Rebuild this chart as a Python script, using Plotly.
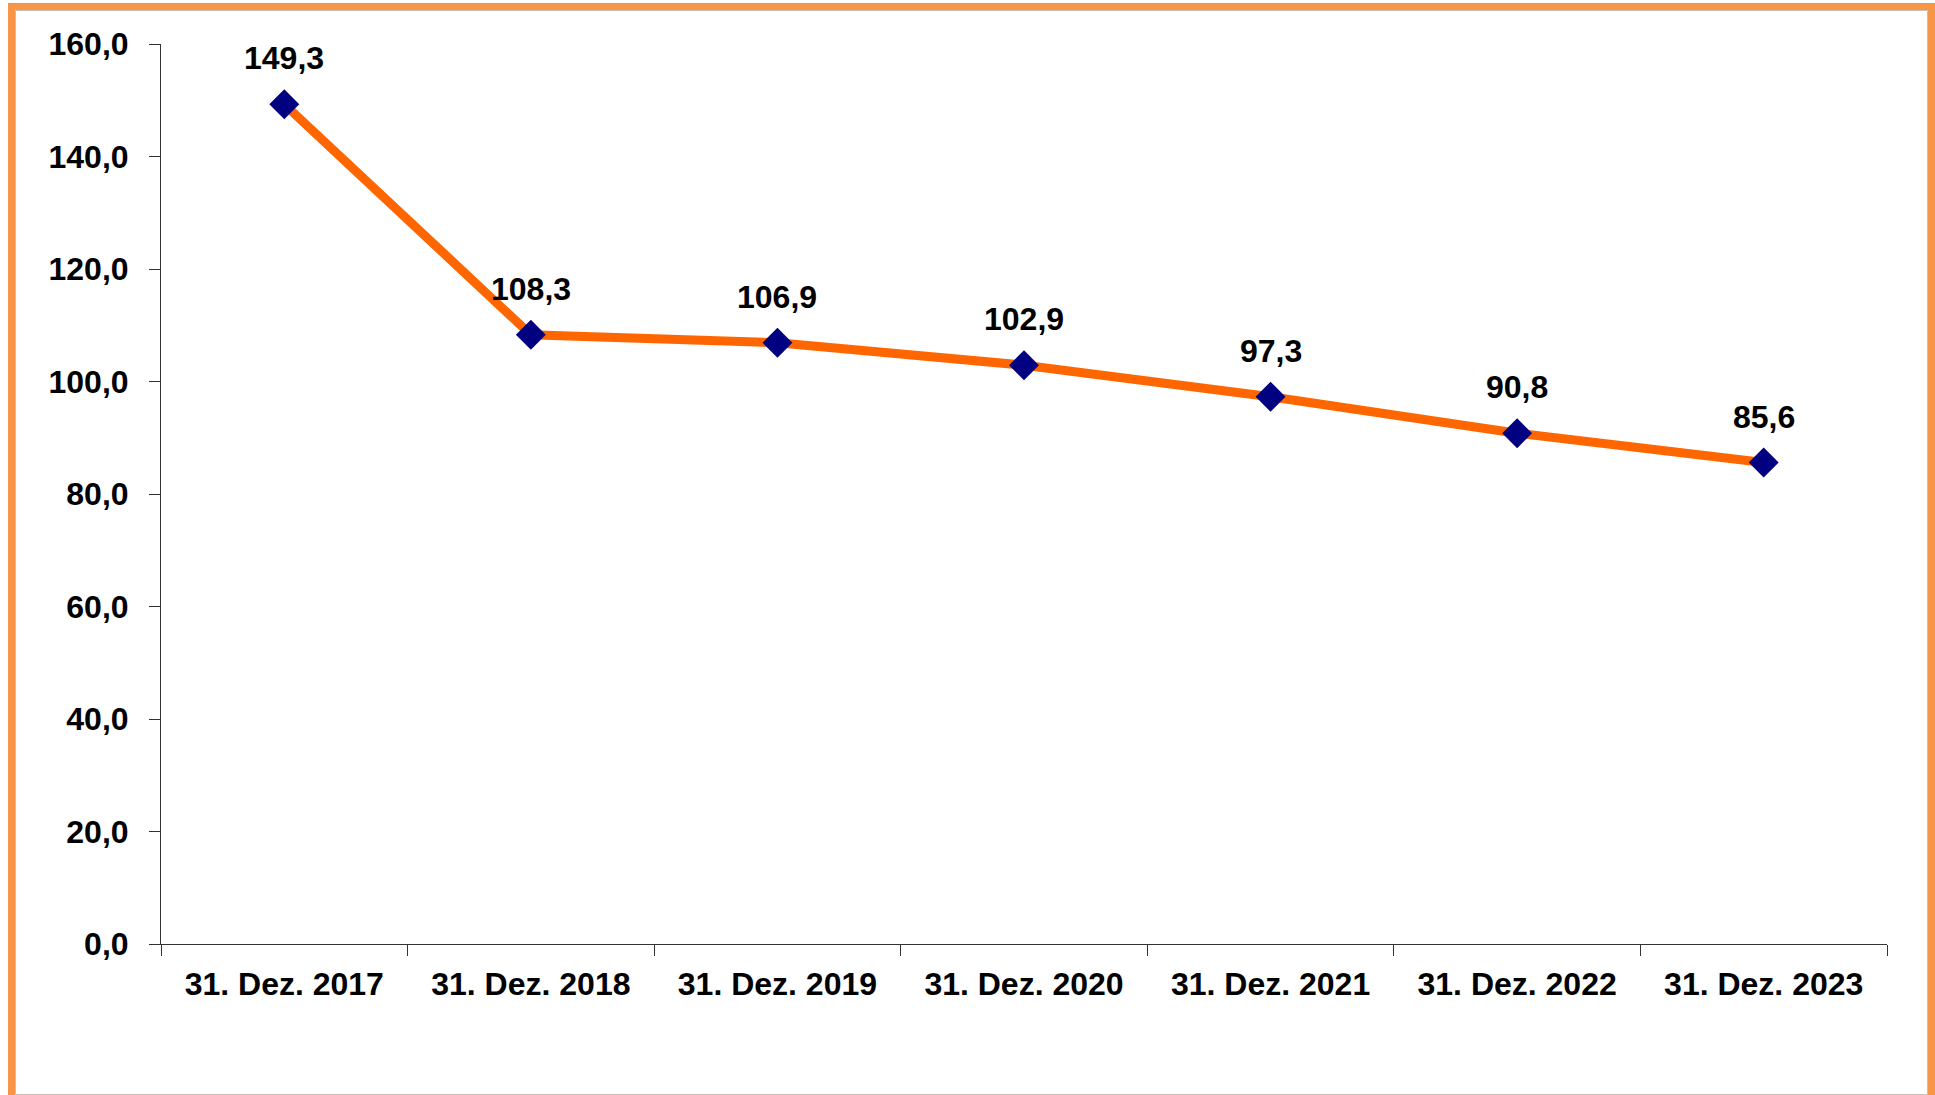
import plotly.graph_objects as go

categories = ["31. Dez. 2017", "31. Dez. 2018", "31. Dez. 2019", "31. Dez. 2020",
              "31. Dez. 2021", "31. Dez. 2022", "31. Dez. 2023"]
values = [149.3, 108.3, 106.9, 102.9, 97.3, 90.8, 85.6]
value_labels = ["149,3", "108,3", "106,9", "102,9", "97,3", "90,8", "85,6"]
y_ticks = [0, 20, 40, 60, 80, 100, 120, 140, 160]

W, H = 1935, 1095
L, R, T, B = 161, 48, 44, 151
pw, ph = W - L - R, H - T - B

def px(x):
    return (x - L) / pw

def py(y):
    return (H - B - y) / ph

FONT = "Liberation Sans, Arial, sans-serif"

fig = go.Figure()
fig.add_trace(go.Scatter(
    x=categories, y=values, mode="lines+markers",
    line=dict(color="#FF6600", width=9),
    marker=dict(symbol="diamond", size=23, color="#000080"),
    hoverinfo="skip", showlegend=False,
))

for c, v, t in zip(categories, values, value_labels):
    fig.add_annotation(x=c, y=v, text=f"<b>{t}</b>", showarrow=False,
                       yshift=46, yanchor="middle", xanchor="center",
                       font=dict(family=FONT, size=32, color="#000000"))

# orange frame
fig.add_shape(type="rect", xref="paper", yref="paper",
              x0=px(11.5), x1=px(1931.5), y0=py(6.5), y1=py(1110),
              line=dict(color="#F79646", width=7), fillcolor="rgba(0,0,0,0)", layer="above")
fig.add_shape(type="rect", xref="paper", yref="paper",
              x0=px(15.5), x1=px(1927.5), y0=py(10.5), y1=py(1094.5),
              line=dict(color="#C8C0B8", width=1), fillcolor="rgba(0,0,0,0)", layer="above")

fig.update_layout(
    width=W, height=H,
    margin=dict(l=L, r=R, t=T, b=B, pad=0),
    paper_bgcolor="white", plot_bgcolor="white",
    separators=",.",
    font=dict(family=FONT, size=32, color="#000000"),
    xaxis=dict(
        type="category", range=[-0.5, 6.5], tickson="boundaries",
        ticks="outside", ticklen=11, tickwidth=1, tickcolor="#333333",
        showline=True, linecolor="#333333", linewidth=1,
        showgrid=False, zeroline=False, ticklabelstandoff=12,
        tickfont=dict(family=FONT, size=32, color="#000000", weight="bold"),
    ),
    yaxis=dict(
        range=[0, 160], tickvals=y_ticks, tickformat=".1f",
        ticks="outside", ticklen=11, tickwidth=1, tickcolor="#333333",
        showline=True, linecolor="#333333", linewidth=1,
        showgrid=False, zeroline=False, ticklabelstandoff=14,
        tickfont=dict(family=FONT, size=32, color="#000000", weight="bold"),
    ),
)

fig.write_html("out.html", config={"displayModeBar": False},
               post_script="document.body.style.margin='0';document.body.style.overflow='hidden';")
